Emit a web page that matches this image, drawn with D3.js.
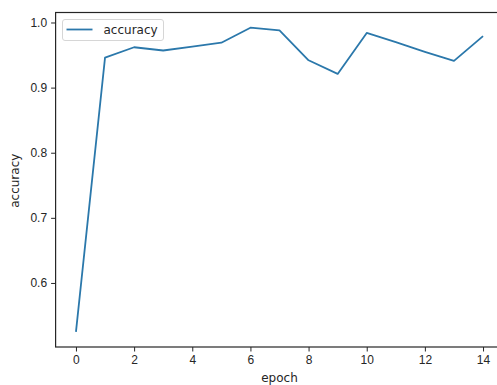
<!DOCTYPE html>
<html>
<head>
<meta charset="utf-8">
<script src="https://cdn.jsdelivr.net/npm/d3@7"></script>
<style>
  html, body { margin: 0; padding: 0; background: #fff; overflow: hidden; }
  svg { display: block; font-family: "DejaVu Sans", sans-serif; }
</style>
</head>
<body>
<div id="chart"></div>
<script>
// data
var epochs = [0, 1, 2, 3, 4, 5, 6, 7, 8, 9, 10, 11, 12, 13, 14];
var accuracy = [0.525, 0.946, 0.962, 0.957, 0.963, 0.969, 0.992, 0.988, 0.942, 0.921, 0.984, 0.970, 0.955, 0.941, 0.979];
var xTicks = [0, 2, 4, 6, 8, 10, 12, 14];
var yTicks = [0.6, 0.7, 0.8, 0.9, 1.0];
var seriesName = 'accuracy';

var width = 497, height = 385;
var plot = { left: 55.6, top: 12.5, right: 503.4, bottom: 347 };
var ink = '#262626';

var svg = d3.select('#chart').append('svg')
  .attr('width', width)
  .attr('height', height);

// matplotlib style 5% padding round the data
var xPad = (d3.max(epochs) - d3.min(epochs)) * 0.05;
var yPad = (d3.max(accuracy) - d3.min(accuracy)) * 0.05;

var x = d3.scaleLinear()
  .domain([d3.min(epochs) - xPad, d3.max(epochs) + xPad])
  .range([plot.left, plot.right]);
var y = d3.scaleLinear()
  .domain([d3.min(accuracy) - yPad, d3.max(accuracy) + yPad])
  .range([plot.bottom, plot.top]);

// line
var line = d3.line()
  .x(function (d, i) { return x(epochs[i]); })
  .y(function (d) { return y(d); });

svg.append('path')
  .datum(accuracy)
  .attr('fill', 'none')
  .attr('stroke', '#2b78ab')
  .attr('stroke-width', 1.8)
  .attr('stroke-linejoin', 'round')
  .attr('d', line);

// axes
var xAxis = svg.append('g')
  .attr('transform', 'translate(0,' + plot.bottom + ')')
  .call(d3.axisBottom(x).tickValues(xTicks).tickSize(4.5).tickPadding(4).tickFormat(d3.format('d')));
var yAxis = svg.append('g')
  .attr('transform', 'translate(' + plot.left + ',0)')
  .call(d3.axisLeft(y).tickValues(yTicks).tickSize(4.5).tickPadding(4).tickFormat(d3.format('.1f')));

[xAxis, yAxis].forEach(function (g) {
  g.select('.domain').remove();
  g.selectAll('.tick line').attr('stroke', ink).attr('stroke-width', 1);
  g.selectAll('.tick text').attr('fill', ink).style('font-size', '12px');
});

// frame
svg.append('rect')
  .attr('x', plot.left)
  .attr('y', plot.top)
  .attr('width', plot.right - plot.left)
  .attr('height', plot.bottom - plot.top)
  .attr('fill', 'none')
  .attr('stroke', ink)
  .attr('stroke-width', 1.2);

// axis labels
svg.append('text')
  .attr('x', (plot.left + plot.right) / 2)
  .attr('y', 382)
  .attr('text-anchor', 'middle')
  .attr('fill', ink)
  .style('font-size', '12px')
  .text('epoch');

svg.append('text')
  .attr('transform', 'translate(19.3,' + ((plot.top + plot.bottom) / 2 + 1) + ') rotate(-90)')
  .attr('text-anchor', 'middle')
  .attr('fill', ink)
  .style('font-size', '12px')
  .text('accuracy');

// legend
var legend = svg.append('g').attr('transform', 'translate(62.5,19.5)');
legend.append('rect')
  .attr('width', 101)
  .attr('height', 21)
  .attr('rx', 2.5)
  .attr('fill', '#fff')
  .attr('fill-opacity', 0.8)
  .attr('stroke', '#d6d6d6')
  .attr('stroke-width', 1);
legend.append('line')
  .attr('x1', 4).attr('x2', 30)
  .attr('y1', 10).attr('y2', 10)
  .attr('stroke', '#2b78ab')
  .attr('stroke-width', 1.8);
legend.append('text')
  .attr('x', 41)
  .attr('y', 14.5)
  .attr('fill', ink)
  .style('font-size', '12px')
  .text(seriesName);
</script>
</body>
</html>
